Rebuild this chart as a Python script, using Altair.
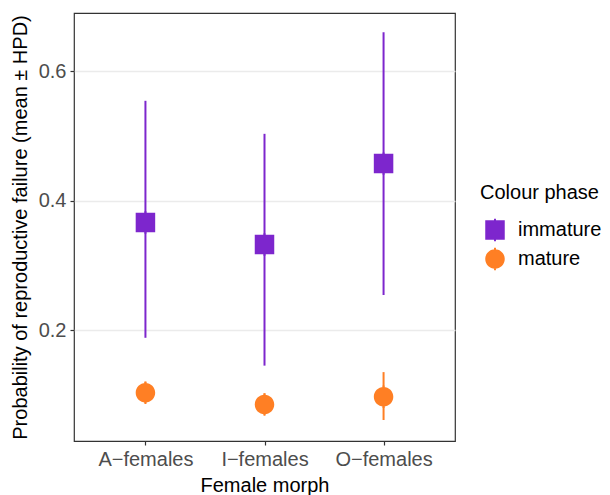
import altair as alt
import pandas as pd

morphs = ["A\u2212females", "I\u2212females", "O\u2212females"]
phases = ["immature", "mature"]

imm_mean = [0.366, 0.332, 0.457]
imm_low = [0.188, 0.145, 0.254]
imm_high = [0.554, 0.503, 0.660]

mat_mean = [0.103, 0.085, 0.097]
mat_low = [0.087, 0.069, 0.061]
mat_high = [0.120, 0.102, 0.135]

rows = []
for i, m in enumerate(morphs):
    rows.append({"morph": m, "phase": "immature", "mean": imm_mean[i], "low": imm_low[i], "high": imm_high[i]})
    rows.append({"morph": m, "phase": "mature", "mean": mat_mean[i], "low": mat_low[i], "high": mat_high[i]})
df = pd.DataFrame(rows)

FONT = "Liberation Sans"
colors = ["#7D26CD", "#FF7F24"]
square_path = "M-1,-1 H1 V1 H-1 Z M-0.1,-1.15 H0.1 V1.15 H-0.1 Z"
circle_path = "M1,0 A1,1 0 1,1 -1,0 A1,1 0 1,1 1,0 Z M-0.1,-1.15 H0.1 V1.15 H-0.1 Z"

legend = alt.Legend(title="Colour phase", orient="none", legendX=406, legendY=170)

x_enc = alt.X("morph:N", sort=morphs, scale=alt.Scale(type="point", padding=0.6),
              axis=alt.Axis(title="Female morph", labelAngle=0, grid=False))
y_scale = alt.Scale(domain=[0.0286, 0.6896], nice=False, zero=False)

color_enc = alt.Color("phase:N", sort=phases, scale=alt.Scale(domain=phases, range=colors), legend=legend)
shape_enc = alt.Shape("phase:N", sort=phases, scale=alt.Scale(domain=phases, range=[square_path, circle_path]),
                      legend=legend)

rules = alt.Chart(df).mark_rule(strokeWidth=2).encode(
    x=x_enc,
    y=alt.Y("low:Q", scale=y_scale,
            axis=alt.Axis(title="Probability of reproductive failure (mean \u00b1 HPD)",
                          values=[0.2, 0.4, 0.6], format=".1f")),
    y2="high:Q",
    color=color_enc,
)

points = alt.Chart(df).mark_point(filled=True, size=380, opacity=1, strokeWidth=0).encode(
    x=x_enc,
    y=alt.Y("mean:Q", scale=y_scale),
    color=color_enc,
    shape=shape_enc,
)

chart = alt.layer(rules, points).properties(
    width=381, height=428,
    autosize=alt.AutoSizeParams(type="none"),
    padding={"left": 66, "top": 5, "right": 147, "bottom": 62},
).configure_view(
    stroke="#333333", strokeWidth=1.2
).configure_axis(
    labelFont=FONT, titleFont=FONT, labelFontSize=20, titleFontSize=20,
    labelColor="#4D4D4D", titleColor="#000000", titleFontWeight="normal",
    domain=False, tickColor="#333333", tickSize=4, tickWidth=1.2,
    gridColor="#EBEBEB", gridWidth=1.4, labelPadding=4,
).configure_axisY(
    titlePadding=8,
).configure_axisX(
    titlePadding=6,
).configure_legend(
    titleFont=FONT, labelFont=FONT, titleFontSize=20, labelFontSize=20,
    titleColor="#000000", labelColor="#000000", titleFontWeight="normal",
    symbolSize=380, symbolStrokeWidth=0, symbolOffset=5, labelOffset=13, rowPadding=5,
    titlePadding=17, padding=0,
)

chart.save("out.html", embed_options={"renderer": "svg", "actions": False})
